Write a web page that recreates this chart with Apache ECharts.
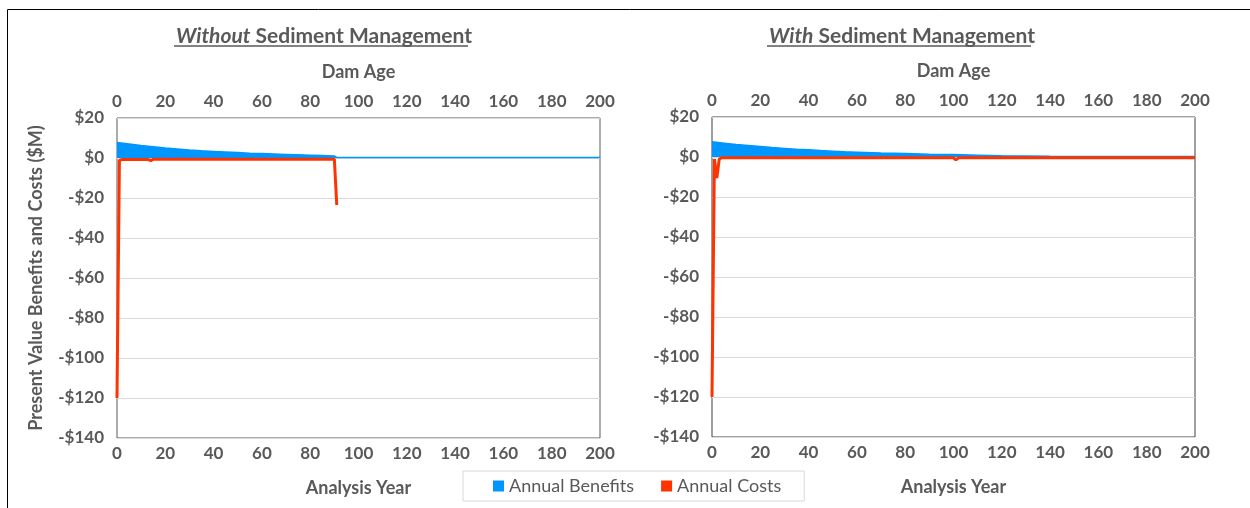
<!DOCTYPE html>
<html>
<head>
<meta charset="utf-8">
<title>Sediment Management</title>
<script src="https://cdn.jsdelivr.net/npm/echarts@6/dist/echarts.min.js"></script>
<style>
  html, body { margin: 0; padding: 0; background: #fff; }
  #main { width: 1250px; height: 508px; }
</style>
</head>
<body>
<div id="main"></div>
<script>
// benefits: [analysis year, $M]
var benefitsWithout = [
  [0, 7.8], [5, 7.0], [10, 6.2], [15, 5.6], [20, 5.0], [25, 4.5], [30, 4.0], [35, 3.6],
  [40, 3.3], [45, 3.0], [50, 2.7], [55, 2.4], [60, 2.2], [65, 2.0], [70, 1.8], [75, 1.6],
  [80, 1.4], [85, 1.2], [90, 1.0], [91, 0.3], [120, 0.3], [160, 0.3], [200, 0.3]
];
var benefitsWith = [
  [0, 7.6], [5, 6.9], [10, 6.2], [15, 5.7], [20, 5.2], [25, 4.7], [30, 4.3], [35, 3.9],
  [40, 3.6], [45, 3.2], [50, 2.9], [55, 2.6], [60, 2.4], [70, 2.0], [80, 1.7], [90, 1.4],
  [100, 1.2], [110, 0.9], [120, 0.6], [130, 0.5], [140, 0.4], [160, 0.3],
  [180, 0.3], [200, 0.3]
];
// costs: [analysis year, $M]
var costsWithout = [
  [0, -120], [1, -1.2], [2, -0.8], [13, -0.8], [14, -1.3], [15, -0.6], [40, -0.6],
  [60, -0.6], [80, -0.6], [90, -0.6], [91, -23.5]
];
var costsWith = [
  [0, -120], [1, -1.0], [2, -10.5], [3, -1.0], [4, -0.4], [50, -0.4], [100, -0.4],
  [101, -1.5], [102, -0.4], [150, -0.4], [200, -0.4]
];
var yearTicks = [0, 20, 40, 60, 80, 100, 120, 140, 160, 180, 200];
var valueTicks = [20, 0, -20, -40, -60, -80, -100, -120, -140];

var gray = '#595959';
var font = 'Lato, "Open Sans", sans-serif';
var blue = '#0096ff';
var red = '#ff3300';

function money(v) {
  return v < 0 ? '-$' + Math.abs(v) : '$' + v;
}

function xAxes(grid) {
  var common = {
    type: 'value', gridIndex: grid, min: yearTicks[0], max: yearTicks[yearTicks.length - 1],
    interval: yearTicks[1] - yearTicks[0],
    axisLine: { show: false }, axisTick: { show: false }, splitLine: { show: false },
    nameLocation: 'middle',
    nameTextStyle: { color: gray, fontFamily: font, fontWeight: 'bold', fontSize: 18 },
    axisLabel: { color: gray, fontFamily: font, fontWeight: 'bold', fontSize: 17 }
  };
  return [
    Object.assign({}, common, { position: 'bottom', name: 'Analysis Year', nameGap: 41,
      axisLabel: Object.assign({}, common.axisLabel, { margin: 7 }) }),
    Object.assign({}, common, { position: 'top', name: 'Dam Age', nameGap: 37,
      axisLabel: Object.assign({}, common.axisLabel, { margin: 8 }) })
  ];
}

function yAxis(grid, name) {
  return {
    type: 'value', gridIndex: grid,
    min: valueTicks[valueTicks.length - 1], max: valueTicks[0], interval: 20,
    axisLine: { show: false }, axisTick: { show: false },
    splitLine: { lineStyle: { color: '#d9d9d9', width: 1 } },
    axisLabel: { color: gray, fontFamily: font, fontWeight: 'bold', fontSize: 17, margin: 13,
      formatter: money },
    name: name, nameLocation: 'middle', nameGap: 72,
    nameTextStyle: { color: gray, fontFamily: font, fontWeight: 'bold', fontSize: 18 }
  };
}

function titleOf(word, cx) {
  return {
    text: '{i|' + word + '}{b| Sediment Management}',
    left: cx, top: 21, textAlign: 'center',
    textStyle: {
      rich: {
        i: { fontFamily: font, fontSize: 21, fontWeight: 'bold', fontStyle: 'italic', color: gray },
        b: { fontFamily: font, fontSize: 21, fontWeight: 'bold', color: gray }
      }
    }
  };
}

var chart = echarts.init(document.getElementById('main'));

chart.setOption({
  animation: false,
  backgroundColor: '#fff',
  title: [titleOf('Without', 319), titleOf('With', 897)],
  grid: [
    { left: 117, right: 650, top: 118, bottom: 70, show: true, borderColor: gray, borderWidth: 1, backgroundColor: 'transparent' },
    { left: 712, right: 55, top: 117, bottom: 71, show: true, borderColor: '#404040', borderWidth: 1, backgroundColor: 'transparent' }
  ],
  xAxis: xAxes(0).concat(xAxes(1)),
  yAxis: [yAxis(0, 'Present Value Benefits and Costs ($M)'), yAxis(1, '')],
  legend: {
    left: 463, top: 471,
    data: ['Annual Benefits', 'Annual Costs'],
    icon: 'rect', itemWidth: 11, itemHeight: 11, itemGap: 27,
    padding: [6, 23, 6, 30],
    borderColor: '#d9d9d9', borderWidth: 1,
    textStyle: { color: gray, fontFamily: font, fontSize: 18 }
  },
  graphic: [
    { type: 'rect', shape: { x: 7.5, y: 9.5, width: 1400, height: 700 },
      style: { fill: 'none', stroke: '#000', lineWidth: 1 }, silent: true },
    { type: 'line', shape: { x1: 174, y1: 46, x2: 468, y2: 46 },
      style: { stroke: gray, lineWidth: 1.5 }, silent: true },
    { type: 'line', shape: { x1: 767, y1: 46, x2: 1031, y2: 46 },
      style: { stroke: gray, lineWidth: 1.5 }, silent: true }
  ],
  series: [
    { name: 'Annual Benefits', type: 'line', xAxisIndex: 0, yAxisIndex: 0, data: benefitsWithout,
      showSymbol: false, color: blue, lineStyle: { width: 1.5, color: blue },
      areaStyle: { color: blue, opacity: 1 }, z: 2 },
    { name: 'Annual Costs', type: 'line', xAxisIndex: 0, yAxisIndex: 0, data: costsWithout,
      showSymbol: false, color: red, lineStyle: { width: 3, color: red }, z: 3 },
    { name: 'Annual Benefits', type: 'line', xAxisIndex: 2, yAxisIndex: 1, data: benefitsWith,
      showSymbol: false, color: blue, lineStyle: { width: 1.5, color: blue },
      areaStyle: { color: blue, opacity: 1 }, z: 2 },
    { name: 'Annual Costs', type: 'line', xAxisIndex: 2, yAxisIndex: 1, data: costsWith,
      showSymbol: false, color: red, lineStyle: { width: 3, color: red }, z: 3 }
  ]
});
</script>
</body>
</html>
